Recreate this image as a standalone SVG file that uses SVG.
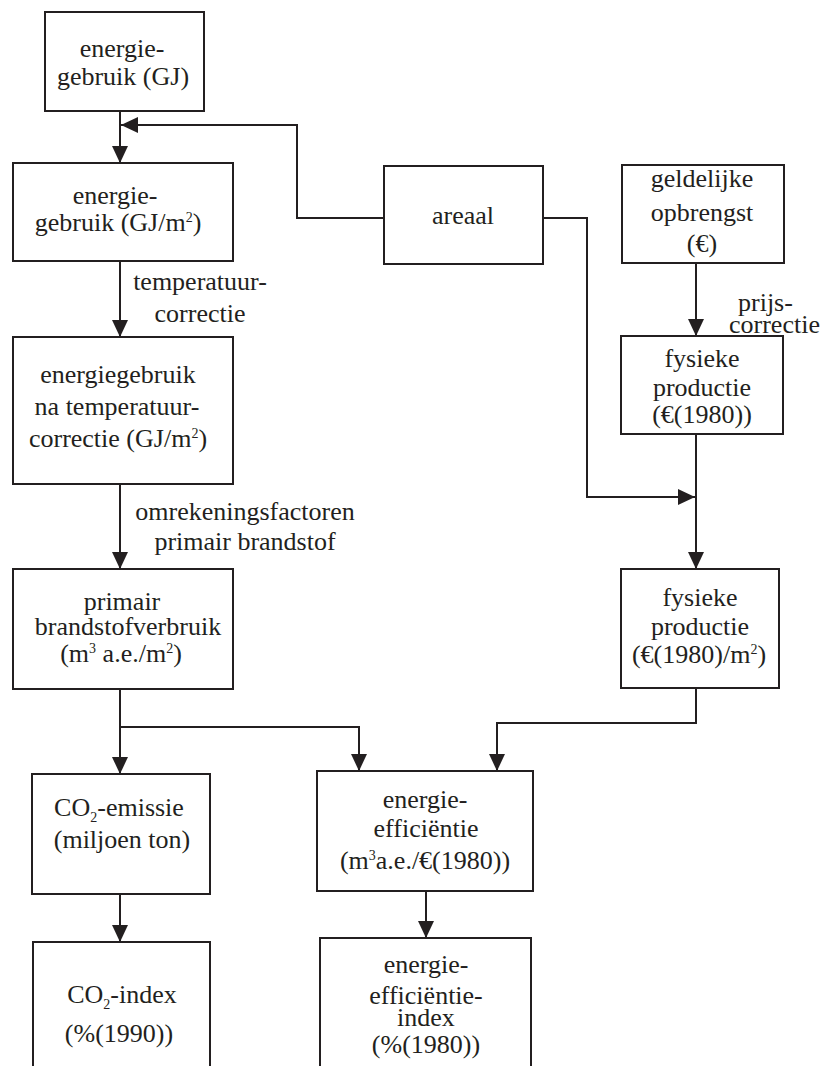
<svg xmlns="http://www.w3.org/2000/svg" width="822" height="1066" viewBox="0 0 822 1066" font-family="'Liberation Serif', 'Times New Roman', Times, 'DejaVu Serif', serif">
<style>
.box{fill:none;stroke:#231f20;stroke-width:2}
.c{fill:none;stroke:#231f20;stroke-width:2}
.t{font-family:'Liberation Serif', 'Times New Roman', Times, 'DejaVu Serif', serif;font-size:26px;fill:#231f20}
.m{text-anchor:middle}
.sup{font-size:14px}
</style>
<defs>
<marker id="ah" markerUnits="userSpaceOnUse" markerWidth="18" markerHeight="16" refX="17" refY="8" orient="auto">
<path d="M0,0 L17,8 L0,16 z" fill="#231f20"/>
</marker>
</defs>
<rect width="822" height="1066" fill="#fff"/>
<g id="connectors">
<line class="c" x1="120" y1="111" x2="120" y2="163" marker-end="url(#ah)"/>
<polyline class="c" points="384,218 297,218 297,125 121,125" marker-end="url(#ah)"/>
<line class="c" x1="120" y1="261" x2="120" y2="337" marker-end="url(#ah)"/>
<line class="c" x1="120" y1="484" x2="120" y2="569" marker-end="url(#ah)"/>
<line class="c" x1="696" y1="263" x2="696" y2="336" marker-end="url(#ah)"/>
<line class="c" x1="696" y1="434" x2="696" y2="569" marker-end="url(#ah)"/>
<polyline class="c" points="543,218 587,218 587,497 695,497" marker-end="url(#ah)"/>
<line class="c" x1="120" y1="689" x2="120" y2="774" marker-end="url(#ah)"/>
<polyline class="c" points="120,727 359,727 359,771" marker-end="url(#ah)"/>
<polyline class="c" points="696,688 696,723 497,723 497,771" marker-end="url(#ah)"/>
<line class="c" x1="120" y1="894" x2="120" y2="942" marker-end="url(#ah)"/>
<line class="c" x1="426" y1="891" x2="426" y2="938" marker-end="url(#ah)"/>
</g>
<g id="label-temp" class="t m">
<text x="200" y="290">temperatuur-</text>
<text x="200" y="322">correctie</text>
</g>
<g id="label-omrek" class="t m">
<text x="245" y="520">omrekeningsfactoren</text>
<text x="245" y="550">primair brandstof</text>
</g>
<g id="label-prijs" class="t">
<text x="738" y="311">prijs-</text>
<text x="729" y="333">correctie</text>
</g>
<g id="n1" class="t m">
<rect class="box" x="45" y="12" width="159" height="99"/>
<text x="122" y="57">energie-</text>
<text x="123" y="85">gebruik (GJ)</text>
</g>
<g id="n2" class="t m">
<rect class="box" x="13" y="163" width="220" height="98"/>
<text x="115" y="204">energie-</text>
<text x="118" y="231">gebruik (GJ/m<tspan class="sup" dy="-9">2</tspan><tspan dy="9">)</tspan></text>
</g>
<g id="n3" class="t m">
<rect class="box" x="13" y="337" width="220" height="147"/>
<text x="118" y="383">energiegebruik</text>
<text x="117" y="415">na temperatuur-</text>
<text x="118" y="447">correctie (GJ/m<tspan class="sup" dy="-9">2</tspan><tspan dy="9">)</tspan></text>
</g>
<g id="n4" class="t m">
<rect class="box" x="13" y="569" width="220" height="120"/>
<text x="122" y="610">primair</text>
<text x="128" y="635">brandstofverbruik</text>
<text x="121" y="662">(m<tspan class="sup" dy="-9">3</tspan><tspan dy="9"> a.e./m</tspan><tspan class="sup" dy="-9">2</tspan><tspan dy="9">)</tspan></text>
</g>
<g id="areaal" class="t m">
<rect class="box" x="384" y="166" width="159" height="98"/>
<text x="463" y="224">areaal</text>
</g>
<g id="geld" class="t m">
<rect class="box" x="622" y="165" width="162" height="98"/>
<text x="702" y="187">geldelijke</text>
<text x="702" y="221">opbrengst</text>
<text x="702" y="252">(€)</text>
</g>
<g id="fys1" class="t m">
<rect class="box" x="621" y="336" width="162" height="98"/>
<text x="702" y="367">fysieke</text>
<text x="702" y="396">productie</text>
<text x="702" y="423">(€(1980))</text>
</g>
<g id="fys2" class="t m">
<rect class="box" x="621" y="569" width="158" height="119"/>
<text x="700" y="606">fysieke</text>
<text x="700" y="635">productie</text>
<text x="699" y="663">(€(1980)/m<tspan class="sup" dy="-9">2</tspan><tspan dy="9">)</tspan></text>
</g>
<g id="co2em" class="t m">
<rect class="box" x="32" y="774" width="178" height="120"/>
<text x="119" y="816">CO<tspan class="sup" dy="6">2</tspan><tspan dy="-6">-emissie</tspan></text>
<text x="122" y="848">(miljoen ton)</text>
</g>
<g id="co2idx" class="t m">
<rect class="box" x="33" y="942" width="177" height="200"/>
<text x="122" y="1003">CO<tspan class="sup" dy="6">2</tspan><tspan dy="-6">-index</tspan></text>
<text x="119" y="1042">(%(1990))</text>
</g>
<g id="eff" class="t m">
<rect class="box" x="317" y="771" width="216" height="120"/>
<text x="425" y="808">energie-</text>
<text x="426" y="837">efficiëntie</text>
<text x="425" y="869">(m<tspan class="sup" dy="-9">3</tspan><tspan dy="9">a.e./€(1980))</tspan></text>
</g>
<g id="effidx" class="t m">
<rect class="box" x="320" y="938" width="211" height="200"/>
<text x="426" y="973">energie-</text>
<text x="426" y="1004">efficiëntie-</text>
<text x="426" y="1026">index</text>
<text x="426" y="1053">(%(1980))</text>
</g>
</svg>
